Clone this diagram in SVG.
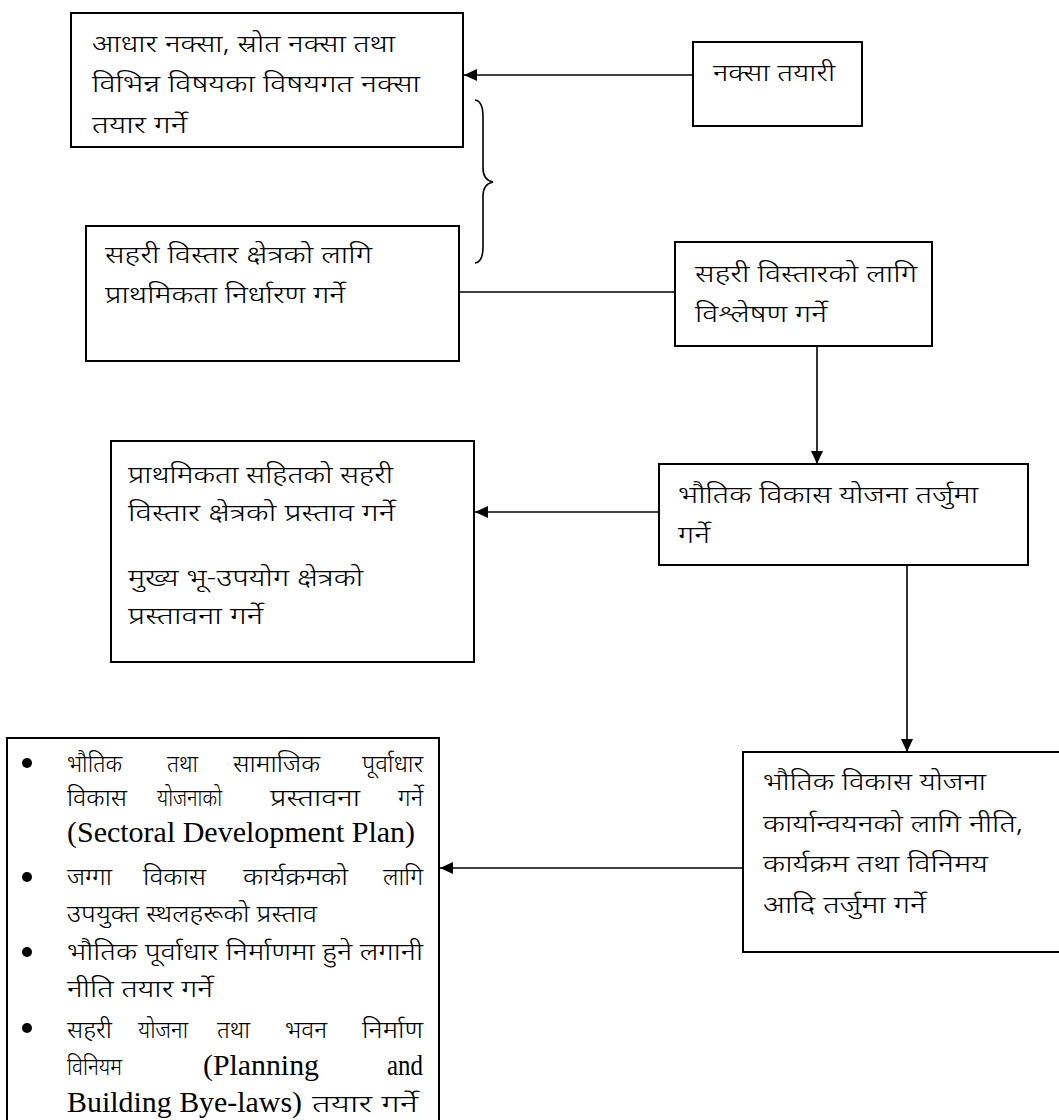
<svg xmlns="http://www.w3.org/2000/svg" width="1059" height="1120" viewBox="0 0 1059 1120">
<style>
.box{fill:#fff;stroke:#000;stroke-width:2}
.conn{stroke:#000;stroke-width:1.6;fill:none}
.dev{font-family:"Noto Sans Devanagari","Lohit Devanagari","Noto Serif Devanagari","Noto Sans",sans-serif;font-size:24px;font-weight:300;fill:#000}
.en{font-family:"Liberation Serif","Times New Roman",serif;font-size:30px;font-weight:normal;fill:#000}
.en-s{font-size:29px}
</style>
<defs>
<marker id="ah" markerUnits="userSpaceOnUse" markerWidth="14" markerHeight="12" refX="13" refY="6" orient="auto">
<path d="M0,0 L13,6 L0,12 z" fill="#000"/>
</marker>
</defs>
<rect width="1059" height="1120" fill="#fff"/>

<g id="connectors">
<line class="conn" x1="693" y1="75" x2="464" y2="75" marker-end="url(#ah)"/>
<path class="conn" d="M475,100 Q483,101 483,117 L483,168 Q483,180 493,182 Q483,184 483,196 L483,247 Q483,262 475,263"/>
<line class="conn" x1="459" y1="292" x2="675" y2="292"/>
<line class="conn" x1="817" y1="346" x2="817" y2="464" marker-end="url(#ah)"/>
<line class="conn" x1="659" y1="512" x2="475" y2="512" marker-end="url(#ah)"/>
<line class="conn" x1="907" y1="565" x2="907" y2="752" marker-end="url(#ah)"/>
<line class="conn" x1="743" y1="868" x2="440" y2="868" marker-end="url(#ah)"/>
</g>

<g id="node-base-maps">
<rect class="box" x="71" y="13" width="392" height="134"/>
<text class="dev" x="92" y="52" textLength="303" lengthAdjust="spacingAndGlyphs">आधार नक्सा, स्रोत नक्सा तथा</text>
<text class="dev" x="92" y="92" textLength="328" lengthAdjust="spacingAndGlyphs">विभिन्न विषयका विषयगत नक्सा</text>
<text class="dev" x="92" y="133" textLength="95" lengthAdjust="spacingAndGlyphs">तयार गर्ने</text>
</g>

<g id="node-map-prep">
<rect class="box" x="693" y="42" width="169" height="84"/>
<text class="dev" x="713" y="81" textLength="122" lengthAdjust="spacingAndGlyphs">नक्सा तयारी</text>
</g>

<g id="node-priority">
<rect class="box" x="86" y="226" width="373" height="135"/>
<text class="dev" x="105" y="263" textLength="267" lengthAdjust="spacingAndGlyphs">सहरी विस्तार क्षेत्रको लागि</text>
<text class="dev" x="105" y="303" textLength="240" lengthAdjust="spacingAndGlyphs">प्राथमिकता निर्धारण गर्ने</text>
</g>

<g id="node-analysis">
<rect class="box" x="675" y="242" width="257" height="104"/>
<text class="dev" x="695" y="282" textLength="222" lengthAdjust="spacingAndGlyphs">सहरी विस्तारको लागि</text>
<text class="dev" x="695" y="322" textLength="132" lengthAdjust="spacingAndGlyphs">विश्लेषण गर्ने</text>
</g>

<g id="node-plan">
<rect class="box" x="659" y="464" width="369" height="101"/>
<text class="dev" x="678" y="503" textLength="300" lengthAdjust="spacingAndGlyphs">भौतिक विकास योजना तर्जुमा</text>
<text class="dev" x="678" y="543" textLength="32" lengthAdjust="spacingAndGlyphs">गर्ने</text>
</g>

<g id="node-proposal">
<rect class="box" x="111" y="441" width="363" height="221"/>
<text class="dev" x="128" y="483" textLength="265" lengthAdjust="spacingAndGlyphs">प्राथमिकता सहितको सहरी</text>
<text class="dev" x="128" y="521" textLength="267" lengthAdjust="spacingAndGlyphs">विस्तार क्षेत्रको प्रस्ताव गर्ने</text>
<text class="dev" x="128" y="586" textLength="235" lengthAdjust="spacingAndGlyphs">मुख्य भू-उपयोग क्षेत्रको</text>
<text class="dev" x="128" y="624" textLength="135" lengthAdjust="spacingAndGlyphs">प्रस्तावना गर्ने</text>
</g>

<g id="node-implementation">
<rect class="box" x="743" y="752" width="330" height="200"/>
<text class="dev" x="763" y="790" textLength="223" lengthAdjust="spacingAndGlyphs">भौतिक विकास योजना</text>
<text class="dev" x="763" y="832" textLength="260" lengthAdjust="spacingAndGlyphs">कार्यान्वयनको लागि नीति,</text>
<text class="dev" x="763" y="872" textLength="225" lengthAdjust="spacingAndGlyphs">कार्यक्रम तथा विनिमय</text>
<text class="dev" x="763" y="913" textLength="163" lengthAdjust="spacingAndGlyphs">आदि तर्जुमा गर्ने</text>
</g>

<g id="node-outputs">
<rect class="box" x="7" y="738" width="432" height="420"/>
<circle cx="27" cy="763" r="5"/>
<circle cx="27" cy="877" r="5"/>
<circle cx="27" cy="952" r="5"/>
<circle cx="27" cy="1028" r="5"/>
<g id="line-1">
<text class="dev" x="67" y="772" textLength="55" lengthAdjust="spacingAndGlyphs">भौतिक</text>
<text class="dev" x="167" y="772" textLength="31" lengthAdjust="spacingAndGlyphs">तथा</text>
<text class="dev" x="233" y="772" textLength="87" lengthAdjust="spacingAndGlyphs">सामाजिक</text>
<text class="dev" x="362" y="772" textLength="61" lengthAdjust="spacingAndGlyphs">पूर्वाधार</text>
</g>
<g id="line-2">
<text class="dev" x="67" y="806" textLength="60" lengthAdjust="spacingAndGlyphs">विकास</text>
<text class="dev" x="157" y="806" textLength="65" lengthAdjust="spacingAndGlyphs">योजनाको</text>
<text class="dev" x="270" y="806" textLength="90" lengthAdjust="spacingAndGlyphs">प्रस्तावना</text>
<text class="dev" x="398" y="806" textLength="25" lengthAdjust="spacingAndGlyphs">गर्ने</text>
</g>
<text class="en en-s" x="67" y="842" textLength="348" lengthAdjust="spacingAndGlyphs">(Sectoral Development Plan)</text>
<g id="line-4">
<text class="dev" x="67" y="885" textLength="45" lengthAdjust="spacingAndGlyphs">जग्गा</text>
<text class="dev" x="143" y="885" textLength="63" lengthAdjust="spacingAndGlyphs">विकास</text>
<text class="dev" x="243" y="885" textLength="105" lengthAdjust="spacingAndGlyphs">कार्यक्रमको</text>
<text class="dev" x="383" y="885" textLength="40" lengthAdjust="spacingAndGlyphs">लागि</text>
</g>
<text class="dev" x="67" y="922" textLength="250" lengthAdjust="spacingAndGlyphs">उपयुक्त स्थलहरूको प्रस्ताव</text>
<text class="dev" x="67" y="960" textLength="356" lengthAdjust="spacingAndGlyphs">भौतिक पूर्वाधार निर्माणमा हुने लगानी</text>
<text class="dev" x="67" y="997" textLength="146" lengthAdjust="spacingAndGlyphs">नीति तयार गर्ने</text>
<g id="line-8">
<text class="dev" x="67" y="1038" textLength="45" lengthAdjust="spacingAndGlyphs">सहरी</text>
<text class="dev" x="138" y="1038" textLength="50" lengthAdjust="spacingAndGlyphs">योजना</text>
<text class="dev" x="217" y="1038" textLength="33" lengthAdjust="spacingAndGlyphs">तथा</text>
<text class="dev" x="285" y="1038" textLength="42" lengthAdjust="spacingAndGlyphs">भवन</text>
<text class="dev" x="362" y="1038" textLength="61" lengthAdjust="spacingAndGlyphs">निर्माण</text>
</g>
<g id="line-9">
<text class="dev" x="67" y="1075" textLength="55" lengthAdjust="spacingAndGlyphs">विनियम</text>
<text class="en" x="203" y="1075" textLength="116" lengthAdjust="spacingAndGlyphs">(Planning</text>
<text class="en" x="387" y="1075" textLength="36" lengthAdjust="spacingAndGlyphs">and</text>
</g>
<g id="line-10">
<text class="en" x="67" y="1112" textLength="235" lengthAdjust="spacingAndGlyphs">Building Bye-laws)</text>
<text class="dev" x="312" y="1112" textLength="106" lengthAdjust="spacingAndGlyphs">तयार गर्ने</text>
</g>
</g>
</svg>
